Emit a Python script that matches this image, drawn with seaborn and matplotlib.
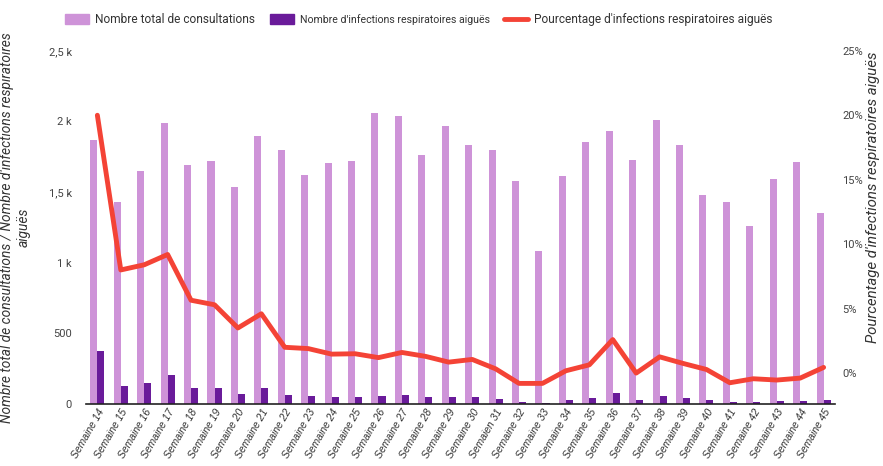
import matplotlib
matplotlib.use("Agg")
import matplotlib.pyplot as plt
import seaborn as sns
import pandas as pd
import numpy as np
from matplotlib.patches import Patch
from matplotlib.lines import Line2D
from matplotlib.ticker import FuncFormatter

weeks = [f"Semaine {i}" for i in range(14, 46)]
weeks[31 - 14] = "Semaien 31"
consultations = [1870, 1431, 1650, 1990, 1693, 1721, 1537, 1898, 1799, 1622, 1707, 1721,
                 2061, 2040, 1763, 1969, 1834, 1799, 1579, 1084, 1615, 1856, 1933, 1728,
                 2011, 1834, 1480, 1431, 1261, 1593, 1714, 1353]
infections = [378, 130, 152, 203, 113, 113, 74, 113, 64, 57, 50, 50,
              57, 64, 50, 50, 50, 35, 14, 9, 28, 42, 81, 28,
              59, 42, 28, 14, 14, 21, 21, 28]
pourcentage = [20.0, 8.0, 8.4, 9.2, 5.65, 5.3, 3.5, 4.6, 2.0, 1.9, 1.47, 1.5,
               1.2, 1.6, 1.3, 0.85, 1.06, 0.33, -0.8, -0.8, 0.18, 0.64, 2.6, 0.0,
               1.26, 0.75, 0.28, -0.75, -0.44, -0.54, -0.39, 0.44]

lab_c = "Nombre total de consultations"
lab_i = "Nombre d'infections respiratoires aiguës"
lab_p = "Pourcentage d'infections respiratoires aiguës"

c_light = "#CE93D8"
c_dark = "#6A1B9A"
c_red = "#F44336"

df = pd.DataFrame({
    "semaine": weeks * 2,
    "serie": [lab_c] * len(weeks) + [lab_i] * len(weeks),
    "valeur": consultations + infections,
})
dfl = pd.DataFrame({"pos": np.arange(len(weeks)), "pct": pourcentage})

sns.set_theme(style="white")
plt.rcParams["font.family"] = ["Roboto", "DejaVu Sans"]

fig = plt.figure(figsize=(8.83, 4.66), dpi=100)
ax = fig.add_axes([0.097, 0.133, 0.849, 0.758])

sns.barplot(data=df, x="semaine", y="valeur", hue="serie", order=weeks,
            palette={lab_c: c_light, lab_i: c_dark}, width=0.6, ax=ax,
            legend=False, saturation=1, linewidth=0)
ax.set_ylim(0, 2500)
ax.set_xlim(-0.5, len(weeks) - 0.5)
ax.set_yticks([0, 500, 1000, 1500, 2000, 2500])
ax.yaxis.set_major_formatter(FuncFormatter(
    lambda v, p: "0" if v == 0 else ("500" if v == 500 else (f"{v/1000:g}".replace(".", ",") + " k"))))
ax.set_xlabel("")
ax.set_ylabel("Nombre total de consultations / Nombre d'infections respiratoires\naiguës",
              fontsize=9.9, fontstyle="italic", color="#333333", labelpad=13, linespacing=1.2)
ax.tick_params(axis="y", labelsize=8, colors="#444444", length=0, pad=10)
ax.tick_params(axis="x", length=0, pad=2)
for t in ax.get_xticklabels():
    t.set_rotation(60)
    t.set_ha("right")
    t.set_rotation_mode("anchor")
    t.set_fontsize(7.5)
    t.set_fontstyle("italic")
    t.set_color("#333333")
    t.set_family(["Liberation Sans", "DejaVu Sans"])
for s in ["top", "left", "right"]:
    ax.spines[s].set_visible(False)
ax.spines["bottom"].set_color("#222222")
ax.spines["bottom"].set_linewidth(1.2)

ax2 = ax.twinx()
sns.lineplot(data=dfl, x="pos", y="pct", color=c_red, linewidth=3.5, ax=ax2, legend=False)
ax2.set_ylim(-2.4, 25)
ax2.set_yticks([0, 5, 10, 15, 20, 25])
ax2.yaxis.set_major_formatter(FuncFormatter(lambda v, p: f"{v:g}%"))
ax2.tick_params(axis="y", labelsize=8, colors="#444444", length=0, pad=5)
ax2.set_ylabel(lab_p, fontsize=10.8, fontstyle="italic", color="#333333", labelpad=1)
ax2.yaxis.set_label_coords(1.041, 0.585)
for s in ["top", "left", "right", "bottom"]:
    ax2.spines[s].set_visible(False)
ax2.set_xlim(-0.5, len(weeks) - 0.5)

handles = [Patch(color=c_light), Patch(color=c_dark), Line2D([0], [0], color=c_red, lw=3.5)]
leg = fig.legend(handles, [lab_c, lab_i, lab_p], loc="center left",
                 bbox_to_anchor=(0.062, 0.958), ncol=3, frameon=False, fontsize=8.6,
                 handlelength=2.0, handleheight=0.9, handletextpad=0.5, columnspacing=1.2)
texts = leg.get_texts()
texts[1].set_fontsize(7.6)
for t in texts:
    t.set_color("#333333")

fig.savefig("out.png", dpi=100)
